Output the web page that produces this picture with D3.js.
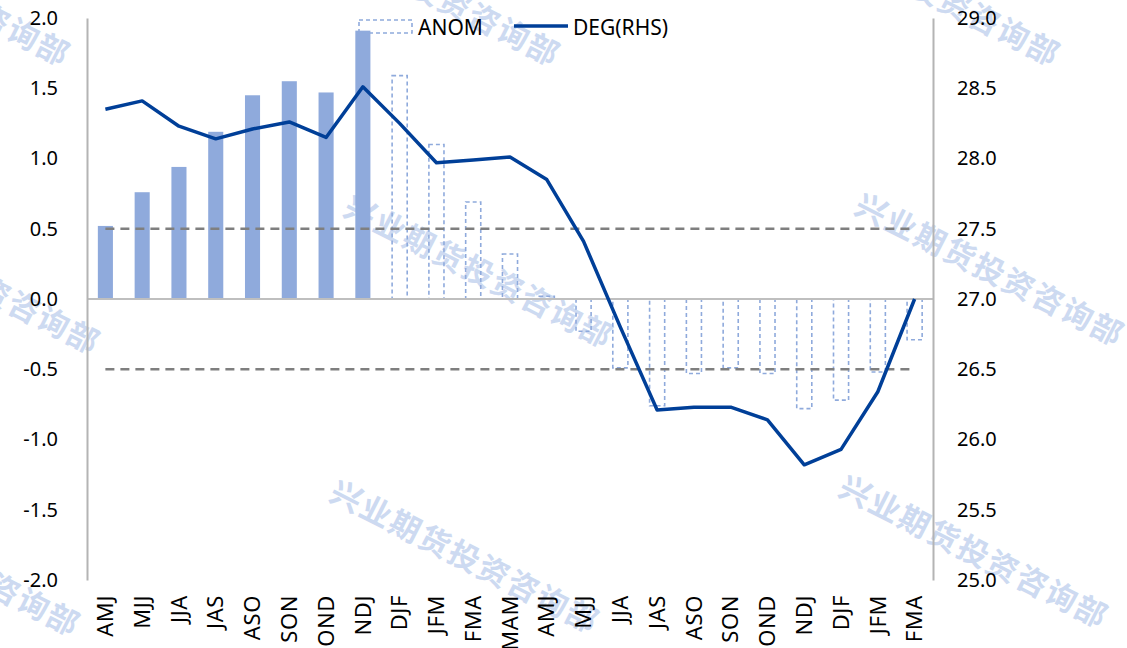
<!DOCTYPE html>
<html>
<head>
<meta charset="utf-8">
<script src="https://cdn.jsdelivr.net/npm/d3@7/dist/d3.min.js"></script>
<style>
  html, body { margin: 0; padding: 0; background: #fff; }
  svg { display: block; }
</style>
</head>
<body>
<svg id="chart" width="1127" height="648"></svg>
<script>
// ---- data ----
const categories = ["AMJ","MJJ","JJA","JAS","ASO","SON","OND","NDJ","DJF","JFM","FMA","MAM","AMJ","MJJ","JJA","JAS","ASO","SON","OND","NDJ","DJF","JFM","FMA"];
const observedAnom = [0.52,0.76,0.94,1.19,1.45,1.55,1.47,1.91,null,null,null,null,null,null,null,null,null,null,null,null,null,null,null];
const forecastAnom = [null,null,null,null,null,null,null,null,1.59,1.10,0.69,0.32,0.02,-0.23,-0.49,-0.76,-0.53,-0.49,-0.53,-0.78,-0.72,-0.52,-0.29];
const degRHS = [28.35,28.41,28.23,28.14,28.21,28.26,28.15,28.51,28.25,27.97,27.99,28.01,27.85,27.41,26.80,26.21,26.23,26.23,26.14,25.82,25.93,26.34,27.00];
const leftTicks = [-2.0,-1.5,-1.0,-0.5,0.0,0.5,1.0,1.5,2.0];
const rightTicks = [25.0,25.5,26.0,26.5,27.0,27.5,28.0,28.5,29.0];
const thresholds = [0.5,-0.5];
const watermarkText = "兴业期货投资咨询部";
const watermarkCenters = [[-63,-12],[427,-12],[927,-12],[-33,276],[480,270],[991,268],[-53,558],[466,555],[975,550]];

// ---- layout ----
const svg = d3.select("#chart");
const plotL = 87, plotR = 933, plotT = 18, plotB = 580;
const font = "'Noto Sans', 'DejaVu Sans', sans-serif";

const x = d3.scaleBand().domain(d3.range(categories.length)).range([plotL, plotR]).padding(0);
const barW = x.bandwidth() * 0.41;
const cx = i => x(i) + x.bandwidth() / 2;
const yL = d3.scaleLinear().domain([-2, 2]).range([plotB, plotT]);
const yR = d3.scaleLinear().domain([25, 29]).range([plotB, plotT]);

// watermarks (behind)
const wm = svg.append("g");
watermarkCenters.forEach(([wx, wy]) => {
  wm.append("text")
    .attr("transform", `translate(${wx},${wy}) rotate(27)`)
    .attr("text-anchor", "middle")
    .attr("dominant-baseline", "central")
    .style("font-family", "'Noto Sans CJK SC', sans-serif")
    .style("font-weight", "bold")
    .style("font-size", "31px")
    .style("letter-spacing", "2px")
    .style("fill", "#cddaf1")
    .text(watermarkText);
});

// solid bars
svg.append("g").selectAll("rect")
  .data(observedAnom.map((v, i) => ({v, i})).filter(d => d.v !== null))
  .join("rect")
  .attr("x", d => cx(d.i) - barW / 2)
  .attr("width", barW)
  .attr("y", d => Math.min(yL(d.v), yL(0)))
  .attr("height", d => Math.abs(yL(d.v) - yL(0)))
  .attr("fill", "#8faadc");

// dashed bars
svg.append("g").selectAll("rect")
  .data(forecastAnom.map((v, i) => ({v, i})).filter(d => d.v !== null))
  .join("rect")
  .attr("x", d => cx(d.i) - barW / 2)
  .attr("width", barW)
  .attr("y", d => Math.min(yL(d.v), yL(0)))
  .attr("height", d => Math.abs(yL(d.v) - yL(0)))
  .attr("fill", "none")
  .attr("stroke", "#8faadc")
  .attr("stroke-width", 1.6)
  .attr("stroke-dasharray", "4,3");

// zero line
svg.append("line")
  .attr("x1", plotL).attr("x2", plotR)
  .attr("y1", yL(0)).attr("y2", yL(0))
  .attr("stroke", "#bfbfbf").attr("stroke-width", 2);

// threshold dashed lines
svg.append("g").selectAll("line")
  .data(thresholds)
  .join("line")
  .attr("x1", cx(0)).attr("x2", cx(categories.length - 1))
  .attr("y1", d => yL(d)).attr("y2", d => yL(d))
  .attr("stroke", "#7f7f7f").attr("stroke-width", 2.5)
  .attr("stroke-dasharray", "9,6");

// axes
const axL = svg.append("g").attr("transform", `translate(${plotL},0)`)
  .call(d3.axisLeft(yL).tickValues(leftTicks).tickSize(0).tickPadding(29).tickFormat(d3.format(".1f")));
const axR = svg.append("g").attr("transform", `translate(${plotR},0)`)
  .call(d3.axisRight(yR).tickValues(rightTicks).tickSize(0).tickPadding(24).tickFormat(d3.format(".1f")));
[axL, axR].forEach(a => {
  a.select(".domain").attr("stroke", "#b4b4b4").attr("stroke-width", 2);
  a.selectAll("text").style("font-family", font).style("font-size", "20px").style("fill", "#000");
});
axL.selectAll("text").text(d => d3.format(".1f")(d).replace("−", "-"));

const axB = svg.append("g").attr("transform", `translate(0,${plotB})`)
  .call(d3.axisBottom(x).tickSize(0).tickFormat(i => categories[i]));
axB.select(".domain").remove();
axB.selectAll("text")
  .attr("transform", "rotate(-90)")
  .attr("x", -15).attr("y", 0).attr("dy", "0.35em")
  .style("text-anchor", "end")
  .style("font-family", font).style("font-size", "22px").style("letter-spacing", "0.6px").style("fill", "#000");

// DEG line
svg.append("path")
  .datum(degRHS)
  .attr("fill", "none")
  .attr("stroke", "#003f98")
  .attr("stroke-width", 3.5)
  .attr("stroke-linejoin", "round")
  .attr("d", d3.line().x((d, i) => cx(i)).y(d => yR(d)));

// legend
const lg = svg.append("g");
lg.append("rect").attr("x", 359).attr("y", 20).attr("width", 53).attr("height", 13)
  .attr("fill", "none").attr("stroke", "#8faadc").attr("stroke-width", 1.6).attr("stroke-dasharray", "4,3");
lg.append("text").attr("x", 418).attr("y", 27).attr("dominant-baseline", "central")
  .style("font-family", font).style("font-size", "21px").text("ANOM");
lg.append("line").attr("x1", 514).attr("x2", 568).attr("y1", 26).attr("y2", 26)
  .attr("stroke", "#003f98").attr("stroke-width", 3.5);
lg.append("text").attr("x", 573).attr("y", 27).attr("dominant-baseline", "central")
  .style("font-family", font).style("font-size", "21px").text("DEG(RHS)");
</script>
</body>
</html>
